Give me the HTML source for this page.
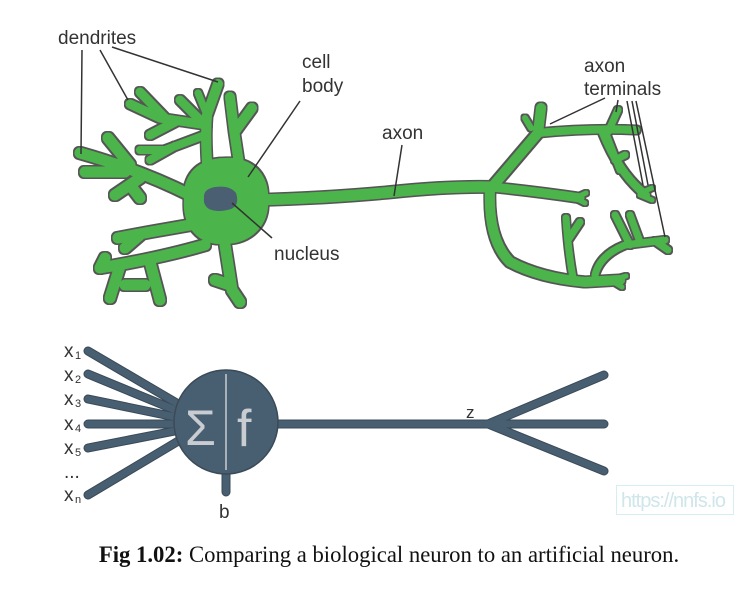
<!DOCTYPE html>
<html><head><meta charset="utf-8"><style>
html,body{margin:0;padding:0;background:#fff;}
body{width:736px;height:603px;overflow:hidden;position:relative;}
svg{position:absolute;left:0;top:0;}
.cap{position:absolute;left:21px;width:736px;top:542px;text-align:center;font-family:"Liberation Serif",serif;font-size:22.7px;color:#111;white-space:nowrap;}
.wm{position:absolute;left:616px;top:485px;width:118px;height:30px;border:1px solid #d4eef3;font-family:"Liberation Sans",sans-serif;font-size:20px;color:#cfe6ea;line-height:30px;padding-left:4px;box-sizing:border-box;letter-spacing:-1px;}
</style></head><body>
<svg width="736" height="603" viewBox="0 0 736 603" font-family="Liberation Sans, sans-serif">
<defs>
<filter id="ol" x="-10%" y="-10%" width="120%" height="120%">
 <feMorphology in="SourceAlpha" operator="dilate" radius="1.3" result="d"/>
 <feFlood flood-color="#555"/>
 <feComposite in2="d" operator="in" result="o"/>
 <feMerge><feMergeNode in="o"/><feMergeNode in="SourceGraphic"/></feMerge>
</filter>
</defs>
<g filter="url(#ol)">
<g fill="none" stroke="#4cb54b" stroke-linecap="round" stroke-linejoin="round">
 <path d="M255 200 Q330 198 392 192 Q450 186 492 187" stroke-width="11"/>
 <path d="M492 187 Q515 160 538 133 L541 108" stroke-width="10"/>
 <path d="M531 128 L525 118" stroke-width="6"/>
 <path d="M538 133 Q590 128 636 130" stroke-width="8"/>
 <path d="M603 133 Q620 175 646 195" stroke-width="8"/>
 <path d="M640 193 L652 188 M640 195 L652 200" stroke-width="5"/>
 <path d="M608 132 L618 110 M606 134 L620 170 M615 160 L625 155" stroke-width="7"/>
 <path d="M492 187 Q540 192 580 198" stroke-width="9"/>
 <path d="M575 198 L586 193 M575 198 L585 203" stroke-width="5"/>
 <path d="M490 190 Q488 240 510 262 Q540 278 585 282 L620 280" stroke-width="10"/>
 <path d="M612 280 L626 276 M612 281 L622 287" stroke-width="5"/>
 <path d="M573 278 Q568 250 566 218 M568 240 L580 222" stroke-width="7"/>
 <path d="M595 275 Q600 255 625 245 L665 240 M630 245 L615 215 M640 242 L630 215 M655 241 L668 250" stroke-width="7"/>
 <path d="M208 175 Q205 140 207 115 L218 84" stroke-width="10"/>
 <path d="M207 125 L160 118 L130 104 M165 118 L140 92 M175 122 L150 135 M200 120 L180 100" stroke-width="9"/>
 <path d="M205 135 L165 150 L140 150 M175 146 L150 160" stroke-width="8"/>
 <path d="M207 115 L198 93" stroke-width="7"/>
 <path d="M240 170 L234 130 L230 97 M236 130 L252 108" stroke-width="10"/>
 <path d="M190 195 Q140 170 80 153 M130 165 L108 138 M125 172 L85 172 M140 178 L115 195 M130 185 L140 198" stroke-width="11"/>
 <path d="M190 225 L150 232 L118 238 M140 235 L125 248" stroke-width="11"/>
 <path d="M205 245 Q160 258 100 268 M150 262 L160 300 M120 266 L110 298 M125 285 L145 285 M100 268 L105 258" stroke-width="11"/>
 <path d="M225 245 L232 290 L240 302 M230 285 L215 280" stroke-width="11"/>
</g>
<path d="M225 158 C252 156 270 175 268 200 C270 226 250 244 225 244 C198 246 182 226 184 200 C182 175 198 158 225 158Z" fill="#4cb54b"/>
</g>
<path d="M204 198 Q203 189 215 187 Q230 185 236 193 Q240 205 231 209 Q218 213 209 209 Q203 205 204 198Z" fill="#4a5f72"/>
<g font-size="19" fill="#333">
<text x="58" y="44">dendrites</text>
<text x="302" y="68">cell</text>
<text x="302" y="92">body</text>
<text x="382" y="139">axon</text>
<text x="274" y="260">nucleus</text>
<text x="584" y="72">axon</text>
<text x="584" y="95">terminals</text>
</g>
<g stroke="#333" stroke-width="1.5" fill="none">
<path d="M82 50 L81 154 M100 50 L128 100 M112 47 L218 82"/>
<path d="M300 101 L248 177"/>
<path d="M232 203 L272 238"/>
<path d="M402 145 L394 196"/>
<path d="M605 98 L550 124 M618 100 L616 112 M627 101 L643 185 M632 101 L648 185 M636 101 L665 237"/>
</g>
<g fill="none" stroke="#3a4a58" stroke-width="9" stroke-linecap="round">
<path d="M88 351 L180 405 M88 374 L180 412 M88 399 L180 418 M88 424 L180 424 M88 448 L180 430 M88 495 L180 440"/>
<path d="M278 424 L488 424 L604 375 M488 424 L604 424 M488 424 L604 471 M226 470 L226 492"/>
</g>
<g fill="none" stroke="#485e71" stroke-width="7" stroke-linecap="round">
<path d="M88 351 L180 405 M88 374 L180 412 M88 399 L180 418 M88 424 L180 424 M88 448 L180 430 M88 495 L180 440"/>
<path d="M278 424 L488 424 L604 375 M488 424 L604 424 M488 424 L604 471 M226 470 L226 492"/>
</g>
<circle cx="226" cy="422" r="52" fill="#485e71" stroke="#3a4a58" stroke-width="1.5"/>
<line x1="226" y1="374" x2="226" y2="470" stroke="#c8ccd0" stroke-width="1.5"/>
<text x="185" y="445" font-size="50" fill="#c9cdd1">Σ</text>
<text x="237" y="446" font-size="52" fill="#c9cdd1">f</text>
<g font-size="19" fill="#333">
<text x="64" y="357">x</text><text x="75" y="359" font-size="11">1</text>
<text x="64" y="381">x</text><text x="75" y="383" font-size="11">2</text>
<text x="64" y="405">x</text><text x="75" y="407" font-size="11">3</text>
<text x="64" y="430">x</text><text x="75" y="432" font-size="11">4</text>
<text x="64" y="454">x</text><text x="75" y="456" font-size="11">5</text>
<text x="64" y="478">...</text>
<text x="64" y="501">x</text><text x="75" y="503" font-size="11">n</text>
<text x="219" y="518">b</text>
<text x="466" y="418" font-size="17">z</text>
</g>
</svg>
<div class="wm">https://nnfs.io</div>
<div class="cap"><b>Fig 1.02:</b> Comparing a biological neuron to an artificial neuron.</div>
</body></html>
